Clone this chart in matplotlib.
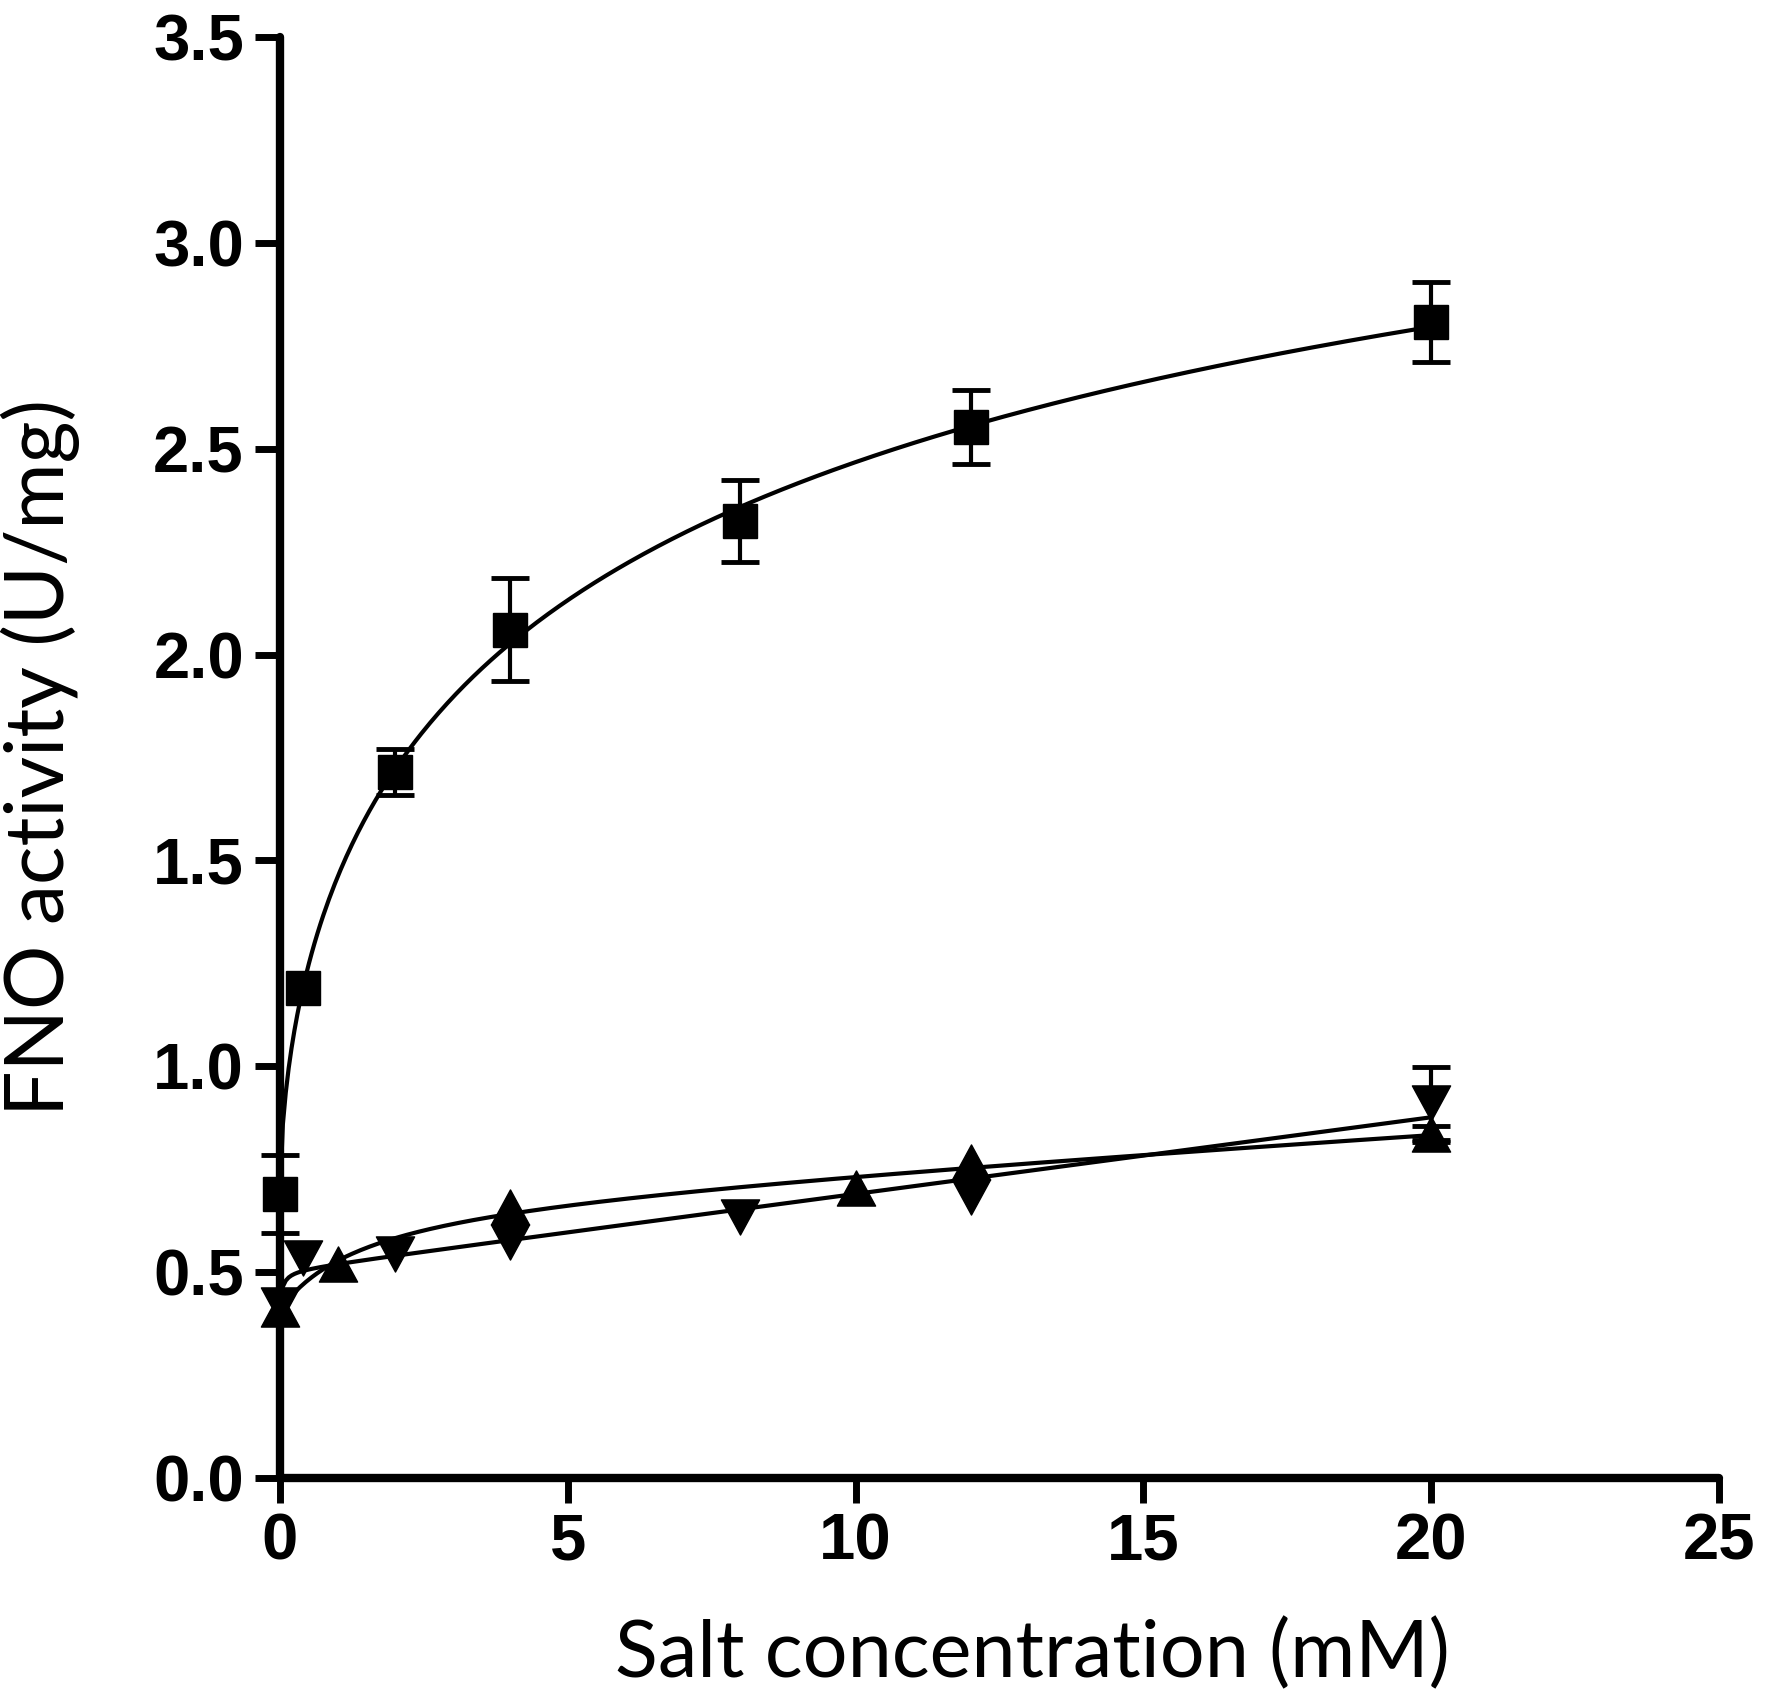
import numpy as np
import matplotlib
matplotlib.use("Agg")
import matplotlib.pyplot as plt
from matplotlib.path import Path

# data
x_sq = [0, 0.4, 2, 4, 8, 12, 20]
y_sq = [0.69, 1.19, 1.715, 2.06, 2.325, 2.553, 2.808]
e_sq = [0.095, 0.0, 0.055, 0.125, 0.10, 0.09, 0.097]

x_dn = [0, 0.4, 2, 4, 8, 12, 20]
y_dn = [0.42, 0.535, 0.545, 0.573, 0.634, 0.683, 0.91]
e_dn = [0, 0, 0, 0, 0, 0, 0.088]

x_up = [0, 1, 4, 10, 12, 20]
y_up = [0.41, 0.52, 0.658, 0.704, 0.767, 0.835]
e_up = [0, 0, 0, 0, 0, 0.02]

xticks = [0, 5, 10, 15, 20, 25]
yticks = [0.0, 0.5, 1.0, 1.5, 2.0, 2.5, 3.0, 3.5]


def fit_hill(x, y):
    # y = y0 + B*x^h/(K^h+x^h); grid over K and h, linear least squares for y0, B
    x = np.asarray(x, float)
    y = np.asarray(y, float)
    best = None
    for h in np.linspace(0.4, 1.5, 45):
        for K in np.linspace(0.1, 20, 200):
            g = x ** h / (K ** h + x ** h)
            A = np.column_stack([np.ones_like(x), g])
            coef, *_ = np.linalg.lstsq(A, y, rcond=None)
            err = np.sum((A @ coef - y) ** 2)
            if best is None or err < best[0]:
                best = (err, K, h, coef)
    _, K, h, c = best
    return lambda t: c[0] + c[1] * t ** h / (K ** h + t ** h)


def fit_one_site_total(x, y):
    # y = y0 + B*x/(K+x) + N*x
    x = np.asarray(x, float)
    y = np.asarray(y, float)
    best = None
    for K in np.linspace(0.05, 30, 600):
        A = np.column_stack([np.ones_like(x), x / (K + x), x])
        coef, *_ = np.linalg.lstsq(A, y, rcond=None)
        err = np.sum((A @ coef - y) ** 2)
        if best is None or err < best[0]:
            best = (err, K, coef)
    _, K, c = best
    return lambda t: c[0] + c[1] * t / (K + t) + c[2] * t


tri_up = Path([(0, 0.92), (-1, -0.92), (1, -0.92), (0, 0.92)],
              [Path.MOVETO, Path.LINETO, Path.LINETO, Path.CLOSEPOLY])
tri_dn = Path([(0, -0.92), (-1, 0.92), (1, 0.92), (0, -0.92)],
              [Path.MOVETO, Path.LINETO, Path.LINETO, Path.CLOSEPOLY])

fig = plt.figure(figsize=(17.7, 17.02), dpi=100)
ax = fig.add_axes([280 / 1770, 1 - 1478 / 1702, 1439 / 1770, 1441 / 1702])

xx = np.linspace(0, 20, 400)
series = [(x_sq, y_sq, e_sq, 's', 24.5, fit_hill),
          (x_dn, y_dn, e_dn, tri_dn, 27.5, fit_one_site_total),
          (x_up, y_up, e_up, tri_up, 27.5, fit_one_site_total)]
for xs, ys, es, mk, ms, fitter in series:
    f = fitter(xs, ys)
    ax.plot(xx, f(xx), color='black', lw=3, clip_on=False, zorder=2)
    xs_a, ys_a, es_a = np.array(xs), np.array(ys), np.array(es)
    m = es_a > 0
    ax.errorbar(xs_a[m], ys_a[m], yerr=es_a[m], fmt='none', ecolor='black',
                elinewidth=3, capsize=14, capthick=3.5, clip_on=False, zorder=3)
    ax.plot(xs, ys, linestyle='none', marker=mk, markersize=ms,
            color='black', clip_on=False, zorder=4)

ax.set_xlim(0, 25)
ax.set_ylim(0, 3.5)
ax.set_xticks(xticks)
ax.set_yticks(yticks)
ax.set_yticklabels([f"{v:.1f}" for v in yticks])
ax.set_xticklabels([str(v) for v in xticks])

for s in ['top', 'right']:
    ax.spines[s].set_visible(False)
for s in ['left', 'bottom']:
    ax.spines[s].set_linewidth(6)
    ax.spines[s].set_capstyle('round')

ax.tick_params(direction='out', length=18, width=5, pad=7)
ax.tick_params(axis='y', pad=8)
for lab in ax.get_xticklabels() + ax.get_yticklabels():
    lab.set_fontfamily('Liberation Sans')
    lab.set_fontweight('bold')
    lab.set_fontsize(47)

ax.set_xlabel('Salt concentration (mM)', fontfamily='Lato', fontsize=57)
ax.set_ylabel('FNO activity (U/mg)', fontfamily='Lato', fontsize=58)
ax.xaxis.set_label_coords(0.523, -0.097)
ax.yaxis.set_label_coords(-0.139, 0.5)

fig.savefig('out.png', dpi=100, facecolor='white')
